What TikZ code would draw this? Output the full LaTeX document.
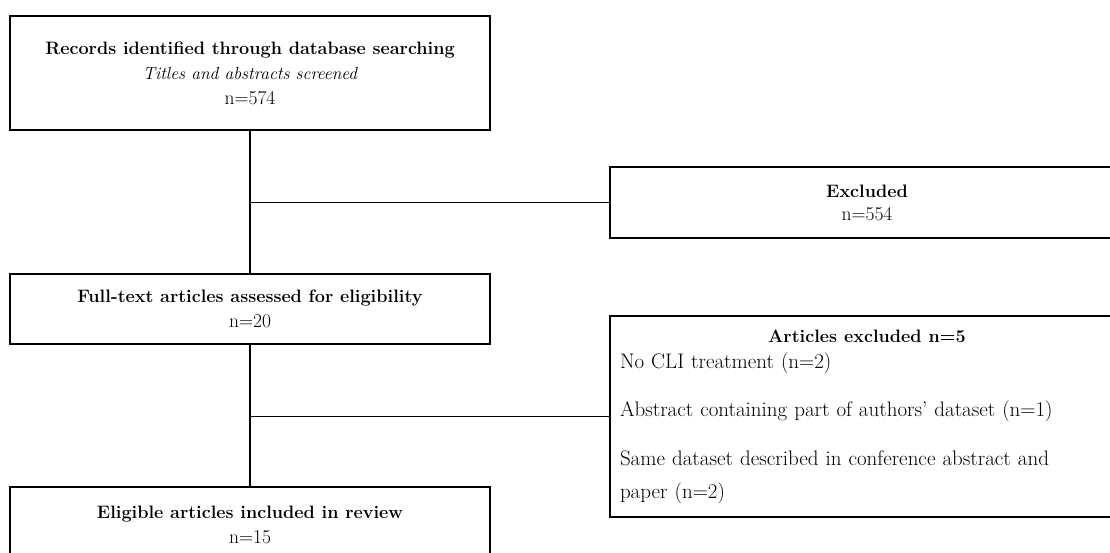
\documentclass[tikz,border=0pt]{standalone}
\usepackage{tikz}
\usetikzlibrary{positioning}

\newcommand{\boxhead}[1]{{\fontsize{18}{25}\selectfont\bfseries #1}}
\newcommand{\boxnote}[1]{{\fontsize{17.5}{25}\selectfont\itshape #1}}

\tikzset{
  box/.style={draw, line width=2pt, align=center, inner sep=0pt, minimum width=480pt},
  sidebox/.style={draw, line width=2pt, minimum width=514pt, inner sep=0pt},
  link/.style={line width=1.6pt},
}

\begin{document}
\begin{tikzpicture}[x=1pt, y=-1pt, font=\fontsize{19.5}{25}\selectfont]

  \useasboundingbox (0,0) rectangle (1110,552);
  \clip (0,0) rectangle (1110,552);

  %% main column
  \node[box, minimum height=114pt] (rec) at (250,73)
    {\boxhead{Records identified through database searching}\\
     \boxnote{Titles and abstracts screened}\\ n=574};
  \node[box, minimum height=70pt] (full) at (250,309)
    {\boxhead{Full-text articles assessed for eligibility}\\ n=20};
  \node[box, minimum height=76pt] (incl) at (250,525)
    {\boxhead{Eligible articles included in review}\\ n=15};

  %% side boxes
  \node[sidebox, align=center, minimum height=71pt,
        font=\fontsize{19.5}{23}\selectfont] (excl) at (867,202.5)
    {\boxhead{Excluded}\\ n=554};
  \node[sidebox, align=left, text width=494pt, minimum height=201pt,
        font=\fontsize{21}{26}\selectfont] (artex) at (867,416.5)
    {\makebox[494pt]{\boxhead{Articles excluded n=5}}\\
     No CLI treatment (n=2)\\[22pt]
     Abstract containing part of authors' dataset (n=1)\\[23pt]
     Same dataset described in conference abstract and\\[7pt]
     paper (n=2)};

  %% connectors
  \draw[link] (rec) -- (full);
  \draw[link] (full) -- (incl);
  \coordinate (j1) at (rec.south |- excl.west);
  \coordinate (j2) at (full.south |- artex.west);
  \draw[link] (j1) -- (excl.west); %% rec->excl
  \draw[link] (j2) -- (artex.west); %% full->artex

\end{tikzpicture}
\end{document}
